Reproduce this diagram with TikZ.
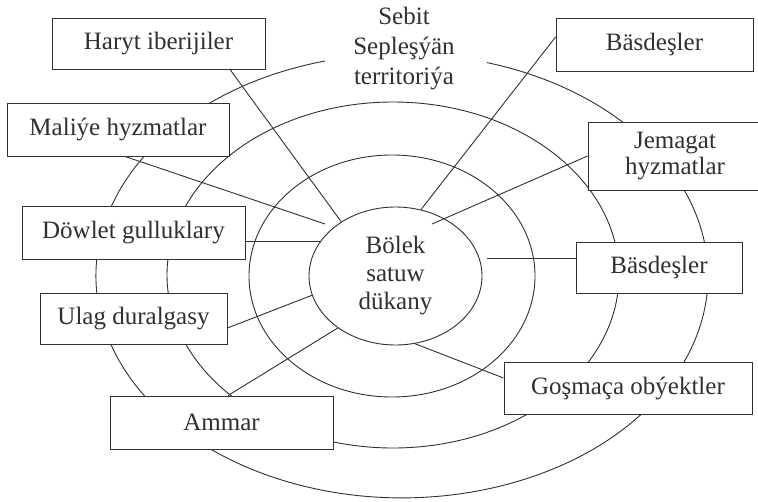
\documentclass[tikz,border=0pt]{standalone}
\usepackage{fontspec}
\setmainfont{Liberation Serif}
\usetikzlibrary{shapes.geometric,calc}
\definecolor{ink}{HTML}{303030}
\tikzset{
  ln/.style={draw=ink, line width=0.9pt},
  box/.style={draw=ink, line width=0.9pt, fill=white, rectangle, inner sep=0pt,
    text=ink, font=\fontsize{25}{29}\selectfont, align=center},
  lbl/.style={text=ink, font=\fontsize{25}{30}\selectfont, align=center, inner sep=0pt},
}
\begin{document}
\begin{tikzpicture}[x=1pt,y=-1pt]
\clip (0,0) rectangle (758,501);
\fill[white] (0,0) rectangle (758,501);
% rings
\draw[ln] (325,61) arc[start angle=104.57, end angle=433.87, x radius=306pt, y radius=222pt];
\draw[ln] (393,275) ellipse [x radius=226pt, y radius=173pt];
\draw[ln] (392,276) ellipse [x radius=143pt, y radius=121pt];
% centre
\node[draw=ink, line width=0.9pt, ellipse, inner sep=0pt, minimum width=173pt, minimum height=138pt,
  text=ink, font=\fontsize{25}{28}\selectfont, align=center] (shop) at (395.5,276) {Bölek\\satuw\\dükany};
\node[lbl] (reg) at (404,49) {Sebit\\Sepleşýän\\territoriýa};
% boxes
\node[box, minimum width=213pt, minimum height=51pt] (hi) at (158.5,43.5) {Haryt iberijiler};
\node[box, minimum width=222pt, minimum height=53pt] (mh) at (118,129.5) {Maliýe hyzmatlar};
\node[box, minimum width=223pt, minimum height=53pt] (dg) at (133.5,232.5) {Döwlet gulluklary};
\node[box, minimum width=187pt, minimum height=51pt] (ud) at (133.5,318.5) {Ulag duralgasy};
\node[box, minimum width=223pt, minimum height=53pt] (am) at (221.5,422.5) {Ammar};
\node[box, minimum width=197pt, minimum height=53pt] (b1) at (654.5,44.5) {Bäsdeşler};
\node[box, minimum width=174pt, minimum height=68pt, font=\fontsize{25}{26}\selectfont] (jh) at (675,156) {Jemagat\\hyzmatlar};
\node[box, minimum width=166pt, minimum height=51pt] (b2) at (659,267.5) {Bäsdeşler};
\node[box, minimum width=248pt, minimum height=52pt] (go) at (628,388) {Goşmaça obýektler};
% free ends
\coordinate (mhEnd) at (325,224);
\coordinate (jhEnd) at (432,224);
\coordinate (b2End) at (487,258);
% connectors
\draw[ln] ($(hi.south)+(71.5,0)$) -- (shop.135);
\draw[ln] ($(mh.south)+(7,0)$) -- (mhEnd);
\draw[ln] (dg.east |- shop.155) -- (shop.155);
\draw[ln] ($(ud.east)+(0,9.5)$) -- (shop.193);
\draw[ln] ($(am.north)+(6.5,0)$) -- (shop.222);
\draw[ln] ($(b1.west)+(0,-7.5)$) -- (shop.69);
\draw[ln] (jh.west) -- (jhEnd);
\draw[ln] (b2.west |- b2End) -- (b2End);
\draw[ln] ($(go.west)+(0,-10)$) -- (shop.286);
\end{tikzpicture}
\end{document}
